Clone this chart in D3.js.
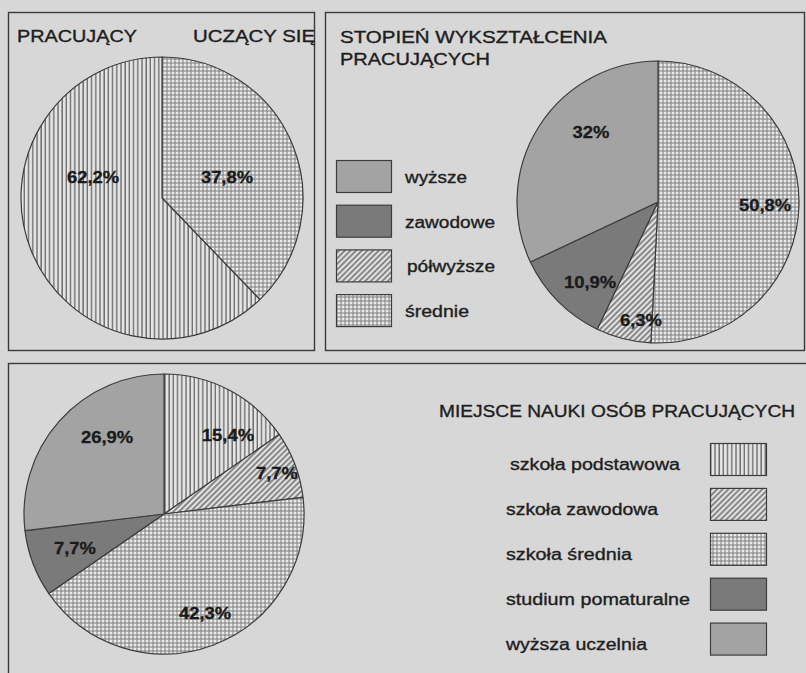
<!DOCTYPE html>
<html><head><meta charset="utf-8">
<script src="https://cdn.jsdelivr.net/npm/d3@7"></script>
<style>body{margin:0;background:#d7d7d7}svg{display:block}</style>
</head><body><svg id="c" width="806" height="673"></svg>
<script>
// ---------- DATA ----------
const pie1Categories = ["uczący się", "pracujący"];
const pie1Values = [37.8, 62.2];
const pie1Labels = ["37,8%", "62,2%"];

const pie2Categories = ["średnie", "półwyższe", "zawodowe", "wyższe"];
const pie2Values = [50.8, 6.3, 10.9, 32];
const pie2Labels = ["50,8%", "6,3%", "10,9%", "32%"];
const pie2LegendOrder = ["wyższe", "zawodowe", "półwyższe", "średnie"];

const pie3Categories = ["szkoła podstawowa", "szkoła zawodowa", "szkoła średnia", "studium pomaturalne", "wyższa uczelnia"];
const pie3Values = [15.4, 7.7, 42.3, 7.7, 26.9];
const pie3Labels = ["15,4%", "7,7%", "42,3%", "7,7%", "26,9%"];

// ---------- STYLE / LAYOUT ----------
const FONT = "'Liberation Sans', Arial, Helvetica, sans-serif";
const fills = {
  "uczący się": "url(#grid)", "pracujący": "url(#vert)",
  "średnie": "url(#grid)", "półwyższe": "url(#diag)", "zawodowe": "#7a7a7a", "wyższe": "#a3a3a3",
  "szkoła podstawowa": "url(#vert)", "szkoła zawodowa": "url(#diag)", "szkoła średnia": "url(#grid)",
  "studium pomaturalne": "#7a7a7a", "wyższa uczelnia": "#a3a3a3"
};
const labelOffsets1 = [[0.461, -0.149], [-0.489, -0.149]];
const labelOffsets2 = [[0.759, 0.021], [-0.121, 0.837], [-0.482, 0.567], [-0.475, -0.496]];
const labelOffsets3 = [[0.457, -0.564], [0.807, -0.293], [0.293, 0.707], [-0.636, 0.243], [-0.407, -0.55]];

const svg = d3.select("#c");
svg.append("rect").attr("width", 806).attr("height", 673).attr("fill", "#d7d7d7");

// patterns
const defs = svg.append("defs");
const pv = defs.append("pattern").attr("id", "vert").attr("patternUnits", "userSpaceOnUse").attr("width", 4.2).attr("height", 4.2);
pv.append("rect").attr("width", 4.2).attr("height", 4.2).attr("fill", "#e4e4e4");
pv.append("line").attr("x1", 1).attr("x2", 1).attr("y1", 0).attr("y2", 4.2).attr("stroke", "#6c6c6c").attr("stroke-width", 1.4);

const pg = defs.append("pattern").attr("id", "grid").attr("patternUnits", "userSpaceOnUse").attr("width", 4).attr("height", 4);
pg.append("rect").attr("width", 4).attr("height", 4).attr("fill", "#eaeaea");
pg.append("line").attr("x1", 1).attr("x2", 1).attr("y1", 0).attr("y2", 4).attr("stroke", "#7e7e7e").attr("stroke-width", 1);
pg.append("line").attr("y1", 1).attr("y2", 1).attr("x1", 0).attr("x2", 4).attr("stroke", "#7e7e7e").attr("stroke-width", 1);

const pd = defs.append("pattern").attr("id", "diag").attr("patternUnits", "userSpaceOnUse").attr("width", 4).attr("height", 4)
  .attr("patternTransform", "rotate(45)");
pd.append("rect").attr("width", 4).attr("height", 4).attr("fill", "#e2e2e2");
pd.append("line").attr("x1", 1).attr("x2", 1).attr("y1", 0).attr("y2", 4).attr("stroke", "#626262").attr("stroke-width", 1.4);

// helper: stretched text
function txt(g, s, x, y, opts) {
  const fill = opts.fill || "#1e1e1e";
  const t = g.append("text").attr("x", x).attr("y", y).text(s)
    .attr("font-family", FONT).attr("font-size", opts.size || 16)
    .attr("font-weight", opts.weight || "normal").attr("fill", fill)
    .attr("stroke", fill).attr("stroke-width", opts.sw == null ? 0.35 : opts.sw)
    .attr("text-anchor", opts.anchor || "start");
  if (opts.width) {
    t.attr("textLength", opts.width).attr("lengthAdjust", "spacingAndGlyphs");
  } else if (opts.stretch) {
    const w = t.node().getComputedTextLength();
    t.attr("textLength", w * opts.stretch).attr("lengthAdjust", "spacingAndGlyphs");
  }
  return t;
}

// panels
const panelStroke = "#3a3a3a";
svg.append("rect").attr("x", 8.5).attr("y", 12.5).attr("width", 306).attr("height", 338).attr("fill", "none").attr("stroke", panelStroke).attr("stroke-width", 1.4);
svg.append("rect").attr("x", 325.5).attr("y", 12.5).attr("width", 479).attr("height", 338).attr("fill", "none").attr("stroke", panelStroke).attr("stroke-width", 1.4);
svg.append("rect").attr("x", 8.5).attr("y", 363.5).attr("width", 900).attr("height", 400).attr("fill", "none").attr("stroke", panelStroke).attr("stroke-width", 1.4);

function drawPie(cx, cy, r, cats, vals, labels, offsets) {
  const g = svg.append("g").attr("transform", `translate(${cx},${cy})`);
  const data = cats.map((c, i) => ({ c, v: vals[i], label: labels[i], off: offsets[i] }));
  const arcs = d3.pie().sort(null).value(d => d.v)(data);
  const arc = d3.arc().innerRadius(0).outerRadius(r);
  g.selectAll("path").data(arcs).join("path")
    .attr("d", arc).attr("fill", d => fills[d.data.c])
    .attr("stroke", "#3c3c3c").attr("stroke-width", 1.2).attr("stroke-linejoin", "round");
  arcs.forEach(a => {
    txt(g, a.data.label, a.data.off[0] * r, a.data.off[1] * r + 6,
      { size: 16, weight: "bold", anchor: "middle", stretch: 1.15, fill: "#1a1a1a", sw: 0.3 });
  });
  return g;
}

drawPie(162, 198, 141, pie1Categories, pie1Values, pie1Labels, labelOffsets1);
drawPie(658, 202, 141, pie2Categories, pie2Values, pie2Labels, labelOffsets2);
drawPie(164, 514, 140, pie3Categories, pie3Values, pie3Labels, labelOffsets3);

// titles
txt(svg, "PRACUJĄCY", 17, 42, { size: 16, width: 120 });
txt(svg, "UCZĄCY SIĘ", 193, 42, { size: 16, width: 122 });
txt(svg, "STOPIEŃ  WYKSZTAŁCENIA", 340, 43, { size: 16, width: 267 });
txt(svg, "PRACUJĄCYCH", 340, 65, { size: 16, width: 150 });
txt(svg, "MIEJSCE NAUKI OSÓB PRACUJĄCYCH", 439, 417, { size: 16, width: 356 });

// legend 2
const leg2Widths = { "wyższe": 62, "zawodowe": 90, "półwyższe": 88, "średnie": 64 };
pie2LegendOrder.forEach((c, i) => {
  const y = 160 + i * 44.7;
  svg.append("rect").attr("x", 336.5).attr("y", y + 0.5).attr("width", 55).attr("height", 32)
    .attr("fill", fills[c]).attr("stroke", "#3c3c3c").attr("stroke-width", 1.2);
  txt(svg, c, c === "półwyższe" ? 407 : 405, y + 23, { size: 16, width: leg2Widths[c] });
});

// legend 3
const leg3Widths = [170, 152, 126, 184, 141];
pie3Categories.forEach((c, i) => {
  const y = 443 + i * 44.9;
  svg.append("rect").attr("x", 710.5).attr("y", y + 0.5).attr("width", 56).attr("height", 32)
    .attr("fill", fills[c]).attr("stroke", "#3c3c3c").attr("stroke-width", 1.2);
  txt(svg, c, i === 0 ? 510 : 506, y + 27, { size: 16, width: leg3Widths[i] });
});
</script>
</body></html>
